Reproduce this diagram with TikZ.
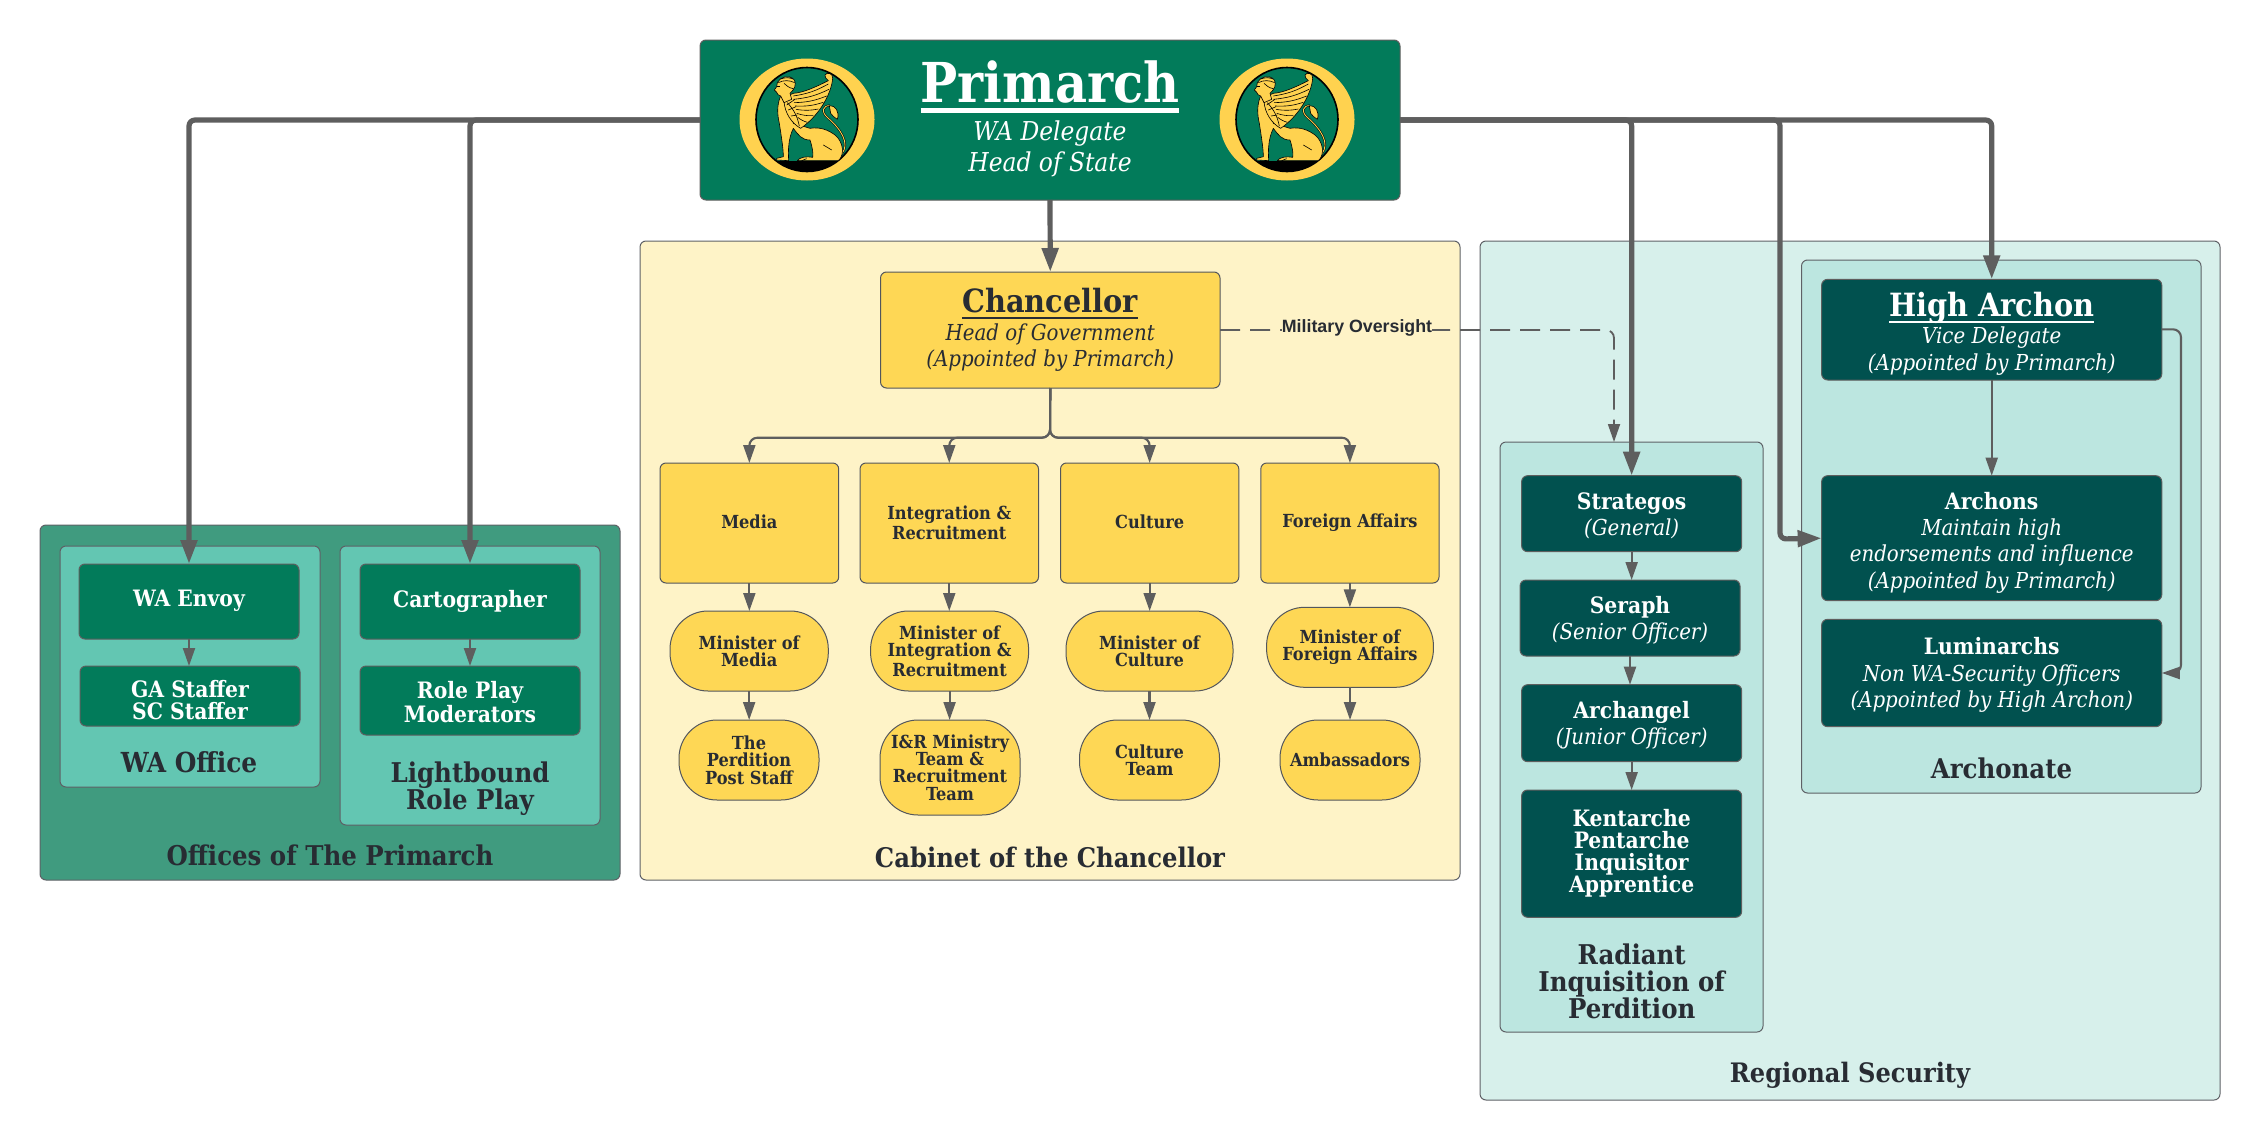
\documentclass[tikz,border=0pt]{standalone}
\usepackage{fontspec}
\usetikzlibrary{arrows.meta,calc}
\setmainfont{DejaVu Serif Condensed}
\newfontfamily\lblfont{Liberation Sans}
\definecolor{cGreen}{HTML}{027B5A}
\definecolor{cOff}{HTML}{409B7F}
\definecolor{cMint}{HTML}{63C6B2}
\definecolor{cTeal}{HTML}{01514F}
\definecolor{cReg}{HTML}{D7F0EB}
\definecolor{cRad}{HTML}{BCE6E0}
\definecolor{cYel}{HTML}{FED755}
\definecolor{cCab}{HTML}{FEF3C7}
\definecolor{cInk}{HTML}{282C33}
\definecolor{cLine}{HTML}{5E5E5E}
\definecolor{cGold}{HTML}{FFD24F}
\newcommand\fs[2]{\fontsize{#1}{#2}\selectfont}
\newcommand\ulx[3]{\leavevmode\setbox0=\hbox{#3}\rlap{\vrule height -#1 depth #2 width \wd0}\box0}
\newcommand\dn[1]{\rule{0pt}{#1}}
\newcommand\bx[7]{\node[#2,minimum width={(#5-#3)*0.5pt},minimum height={(#6-#4)*0.5pt}] (#1) at ({(#3+#5)/2},{(#4+#6)/2}) {#7};}
\newcommand\sphinx[2]{%
\begin{scope}[xshift=#1,yshift=#2,x=0.16667pt,y=-0.16667pt,line width=0.3pt,line join=round]
% tail
\draw[black,line width=1pt] (245,282) .. controls (272,250) and (240,205) .. (205,175) .. controls (180,155) and (190,135) .. (210,137);
\draw[cGold,line width=0.45pt] (245,282) .. controls (272,250) and (240,205) .. (205,175) .. controls (180,155) and (190,135) .. (210,137);
\draw[black,fill=cGold] (208,137) .. controls (225,135) and (240,155) .. (232,178) .. controls (225,170) and (215,170) .. (212,160) -- cycle;
% body
\draw[black,fill=cGold] (62,108) .. controls (50,135) and (52,165) .. (58,190) .. controls (64,230) and (70,265) .. (70,290) -- (50,295) -- (50,300) -- (86,302) .. controls (84,270) and (85,235) .. (100,205) .. controls (115,225) and (125,240) .. (150,240) .. controls (158,265) and (160,280) .. (158,292) .. controls (140,288) and (118,292) .. (112,302) -- (235,302) .. controls (255,285) and (250,245) .. (225,225) .. controls (205,210) and (180,200) .. (150,205) -- (100,190) -- (95,110) -- cycle;
% wing
\draw[black,fill=cGold] (100,100) .. controls (130,98) and (165,82) .. (205,62) .. controls (200,55) and (192,52) .. (195,45) .. controls (200,35) and (220,40) .. (218,55) .. controls (214,100) and (180,165) .. (122,205) .. controls (95,190) and (75,160) .. (72,125) .. controls (78,112) and (88,104) .. (100,100) -- cycle;
\draw[black] (100,108) to[bend right=10] (205,72);
\draw[black] (100,118) to[bend right=10] (207,88);
\draw[black] (102,128) to[bend right=10] (200,108);
\draw[black] (105,138) to[bend right=10] (190,127);
\draw[black] (108,148) to[bend right=10] (175,147);
\draw[black] (110,160) to[bend right=10] (160,167);
\draw[black] (113,172) to[bend right=10] (142,187);
\draw[black] (82,128) to[bend left=15] (118,198);
\draw[black] (80,135) -- (105,118);
\draw[black] (85,150) -- (108,140);
\draw[black] (93,168) -- (112,165);
% head
\draw[black,fill=cGold] (62,108) -- (54,104) -- (50,97) -- (43,90) -- (50,80) -- (52,68) .. controls (60,50) and (88,42) .. (103,60) .. controls (110,72) and (104,88) .. (90,100) -- (95,118) -- (72,128) -- cycle;
\draw[black] (55,68) .. controls (70,60) and (88,60) .. (104,68);
\draw[black] (62,57) .. controls (75,52) and (88,52) .. (98,57);
\draw[black] (72,70) .. controls (80,78) and (88,84) .. (100,86);
\draw[black] (52,80) -- (60,80);
% details
\draw[black] (190,255) -- (215,270);
\draw[black] (125,302) -- (140,296);
\end{scope}}
\newcommand\logo[1]{%
\fill[cGold] (#1,119.5) ellipse [x radius=67.5,y radius=61];
\begin{scope}
\clip (#1,119.5) ellipse [x radius=51,y radius=52];
\fill[cGreen] (#1-60,60) rectangle (#1+60,180);
\fill[black] (#1-60,160.5) rectangle (#1+60,180);
\end{scope}
\draw[black,line width=0.8pt] (#1,119.5) ellipse [x radius=51,y radius=52];
\pgfmathsetmacro\sx{(#1-47)*0.5}
\sphinx{\sx pt}{-30pt}}
\tikzset{
 base/.style={draw=cLine,line width=0.5pt,rounded corners=3pt,inner sep=0pt,outer sep=0pt,align=center},
 grp/.style={base,draw=cInk!75},
 boxg/.style={base,fill=cGreen,text=white},
 boxt/.style={base,fill=cTeal,text=white},
 boxy/.style={base,fill=cYel,text=cInk,draw=cInk!80,font=\fs{9}{8.7}\bfseries},
 pill/.style={boxy,rounded corners=19pt},
 ttl/.style={text=cInk,inner sep=0pt,align=center},
 heavy/.style={draw=cLine,line width=2.6pt,rounded corners=3pt,-{Triangle[length=12pt,width=8pt]}},
 light/.style={draw=cLine,line width=1.05pt,rounded corners=4pt,-{Triangle[length=9pt,width=6pt]}},
 dashy/.style={light,line width=0.9pt,dash pattern=on 10pt off 5pt},
 wsub/.style={font=\fs{11}{13.2}\itshape},
 wmain/.style={font=\fs{11.3}{11}\bfseries},
}
\begin{document}
\begin{tikzpicture}[x=0.5pt,y=-0.5pt]
\useasboundingbox (0,0) rectangle (2260,1140);
\fill[white] (0,0) rectangle (2260,1140);
% groups
\bx{gOff}{grp,fill=cOff}{40}{525}{620}{880}{}
\bx{gWA}{grp,fill=cMint}{60}{546}{320}{787}{}
\bx{gLB}{grp,fill=cMint}{340}{546}{600}{825}{}
\bx{gCab}{grp,fill=cCab}{640}{241}{1460}{880}{}
\bx{gReg}{grp,fill=cReg}{1480}{241}{2220}{1100}{}
\bx{gRad}{grp,fill=cRad}{1500}{442}{1763}{1032}{}
\bx{gArc}{grp,fill=cRad}{1801.5}{260}{2201}{793}{}
% primarch
\bx{pr}{boxg}{700}{40}{1400}{200}{}
\logo{807}
\logo{1287}
\node[text=white,inner sep=0pt,align=center,font=\fs{13}{15.7}\itshape] (prt) at (1050,119) {\fs{27.5}{30}\upshape\bfseries\ulx{2.8pt}{5pt}{Primarch}\\[3pt]\fs{13}{15.7}\mdseries\itshape WA Delegate\\\fs{13}{15.7}\mdseries\itshape Head of State};
% office boxes
\bx{env}{boxg,wmain}{79}{564}{299}{639}{\raisebox{3pt}{WA Envoy}}
\bx{ga}{boxg,wmain}{80}{666}{300}{726}{\dn{12.2pt}GA Staffer\\SC Staffer}
\bx{car}{boxg,wmain}{360}{564}{580}{639}{\raisebox{3pt}{Cartographer}}
\bx{rp}{boxg,wmain}{360}{666}{580}{735}{\dn{9.8pt}Role Play\\Moderators}
\node[ttl,font=\fs{13.8}{14}\bfseries] (lWA) at (189,762) {WA Office};
\node[ttl,font=\fs{13.6}{13.5}\bfseries] (lLB) at (470,789) {Lightbound\\Role Play};
\node[ttl,font=\fs{13.6}{14}\bfseries] (lOff) at (330,855) {Offices of The Primarch};
% cabinet
\bx{chan}{boxy,font=\fs{11}{13}\mdseries}{880.5}{272}{1220}{388}{{\fs{16}{18}\bfseries\ulx{2pt}{3.3pt}{Chancellor}}\\[1pt]\itshape Head of Government\\\itshape (Appointed by Primarch)}
\bx{bM}{boxy}{660}{463}{838.7}{583}{\raisebox{1pt}{Media}}
\bx{bI}{boxy}{860}{463}{1038.5}{583}{Integration \&\\Recruitment}
\bx{bC}{boxy}{1060.5}{463}{1238.8}{583}{\raisebox{1pt}{Culture}}
\bx{bF}{boxy}{1260.8}{463}{1439}{583}{Foreign Affairs}
\bx{mM}{pill}{670}{611}{828.3}{691}{Minister of\\Media}
\bx{mI}{pill}{870.6}{611}{1028.6}{691}{Minister of\\Integration \&\\Recruitment}
\bx{mC}{pill}{1066}{611}{1233}{691}{Minister of\\Culture}
\bx{mF}{pill}{1266.6}{607.3}{1433.4}{687.3}{Minister of\\Foreign Affairs}
\bx{tM}{pill}{679}{720}{819}{800}{The\\Perdition\\Post Staff}
\bx{tI}{pill}{880}{720}{1020}{815}{I\&R Ministry\\Team \&\\Recruitment\\Team}
\bx{tC}{pill}{1079.5}{720}{1219.5}{800}{Culture\\Team}
\bx{tF}{pill}{1280}{720}{1420}{800}{Ambassadors}
\node[ttl,font=\fs{13.5}{15}\bfseries] (lCab) at (1050,857) {Cabinet of the Chancellor};
% archonate
\bx{ha}{boxt,wsub}{1821.6}{279.3}{2161.8}{380}{\dn{16pt}{\fs{16}{18}\upshape\bfseries\ulx{2.2pt}{3.4pt}{High Archon}}\\[0.5pt]Vice Delegate\\(Appointed by Primarch)}
\bx{ar}{boxt,wsub}{1821.6}{475.7}{2161.8}{600.7}{\dn{13pt}{\upshape\bfseries\fs{11.3}{13.2}Archons}\\Maintain high\\endorsements and influence\\(Appointed by Primarch)}
\bx{lu}{boxt,wsub}{1821.6}{619.3}{2161.8}{726.7}{\dn{10.5pt}{\upshape\bfseries\fs{11.3}{13.2}Luminarchs}\\Non WA-Security Officers\\(Appointed by High Archon)}
\node[ttl,font=\fs{13.6}{14}\bfseries] (lArc) at (2001.5,768) {Archonate};
% radiant
\bx{st}{boxt,wsub}{1521.6}{475.7}{1741.7}{551.7}{\dn{10.5pt}{\upshape\bfseries\fs{11.3}{13.2}Strategos}\\(General)}
\bx{se}{boxt,wsub}{1520}{580}{1740}{656}{\dn{11pt}{\upshape\bfseries\fs{11.3}{13.2}Seraph}\\(Senior Officer)}
\bx{an}{boxt,wsub}{1521.6}{684.7}{1741.7}{761.7}{\dn{10.5pt}{\upshape\bfseries\fs{11.3}{13.2}Archangel}\\(Junior Officer)}
\bx{ke}{boxt,wmain}{1521.6}{790}{1741.7}{917.3}{Kentarche\\Pentarche\\Inquisitor\\Apprentice}
\node[ttl,font=\fs{13.6}{13.5}\bfseries] (lRad) at (1631.7,981) {Radiant\\Inquisition of\\Perdition};
\node[ttl,font=\fs{13.4}{14}\bfseries] (lReg) at (1850,1075) {Regional Security};
% connector points
\coordinate (tj) at (1050,437.7);
\coordinate (cA) at (1780,539);
\coordinate (dA) at (1614,442);
\coordinate (hA) at (2181,329.3);
\coordinate (hB) at (2181,673);
% heavy
\draw[heavy] (pr.west) -| (env.north);
\draw[heavy] (pr.west) -| (car.north);
\draw[heavy] (pr.south) -- (chan.north);
\draw[heavy] (pr.east) -| (cA) -- (ar.west);
\draw[heavy] (pr.east) -| (st.north);
\draw[heavy] (pr.east) -| (ha.north);
% light
\foreach \a/\b in {env/ga,car/rp,st/se,se/an,an/ke,ha/ar,bM/mM,bI/mI,bC/mC,bF/mF,mM/tM,mI/tI,mC/tC,mF/tF}{\draw[light] (\a.south) -- (\a.south |- \b.north);}
\foreach \b in {bM,bI,bC,bF}{\draw[light] (chan.south) -- (tj) -| (\b.north);}
\draw[light] (ha.east |- hA) -- (hA) -- (hB) -- (lu.east);
\draw[dashy] (chan.east) -| (dA);
\node[fill=cCab,text=cInk,inner sep=0pt,font=\lblfont\bfseries\fontsize{8.9}{10}\selectfont] (mil) at (1357,328) {Military Oversight};
\end{tikzpicture}
\end{document}
